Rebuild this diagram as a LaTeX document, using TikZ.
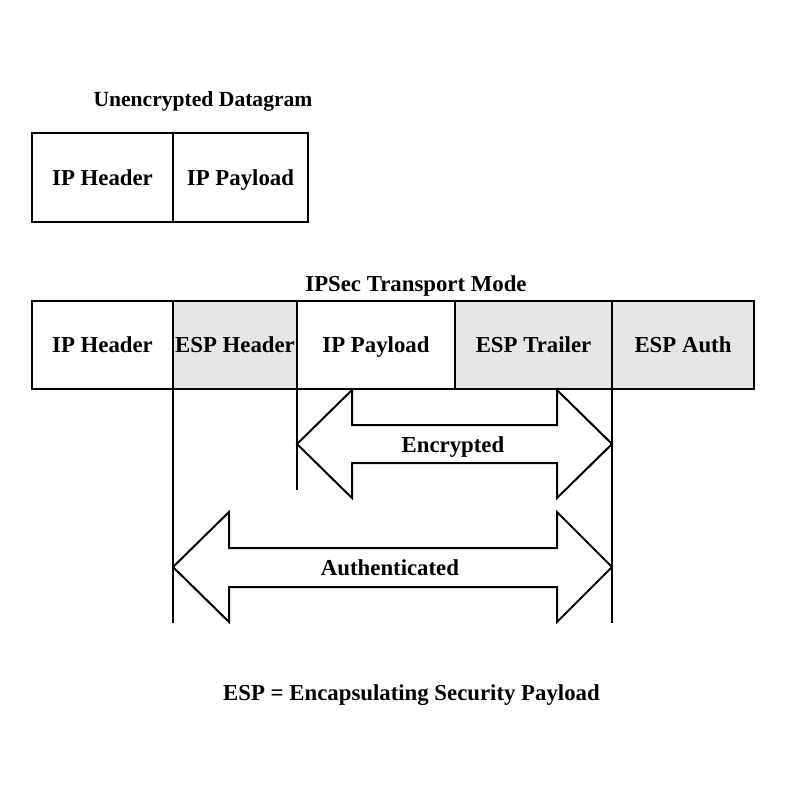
\documentclass[tikz,border=0pt]{standalone}
\usepackage{fontspec}
\setmainfont{Liberation Serif}
\definecolor{espgray}{HTML}{E6E6E6}
\begin{document}
\begin{tikzpicture}[x=0.5pt,y=-0.5pt,
  txt/.style={font=\fontsize{11.4}{13}\selectfont\bfseries, text height=7.5pt, text depth=0pt},
  lbl/.style={txt, inner sep=0pt},
  cell/.style={txt, draw, line width=1.1pt, rectangle, inner sep=0pt, outer sep=0pt},
  espcell/.style={cell, fill=espgray},
  guide/.style={line width=1pt},
  bigarrow/.style={draw, line width=1pt, fill=white, line join=miter}]
\useasboundingbox (0,0) rectangle (800,800);
% unencrypted datagram
\node[lbl, font=\fontsize{10.8}{13}\selectfont\bfseries] (t1) at (203,99) {Unencrypted Datagram};
\node[cell, minimum width=70.5pt, minimum height=44.5pt] (uh) at (102.5,177.5) {IP Header};
\node[cell, minimum width=67.5pt, minimum height=44.5pt] (up) at (240.5,177.5) {IP Payload};
% transport mode
\node[lbl] (t2) at (416,284) {IPSec Transport Mode};
\node[cell, minimum width=70.5pt, minimum height=44pt] (ih) at (102.5,345) {IP Header};
\node[espcell, minimum width=62pt, minimum height=44pt] (eh) at (235,345) {ESP Header};
\node[cell, minimum width=79pt, minimum height=44pt] (pl) at (376,345) {IP Payload};
\node[espcell, minimum width=78.5pt, minimum height=44pt] (et) at (533.5,345) {ESP Trailer};
\node[espcell, minimum width=71pt, minimum height=44pt] (ea) at (683,345) {ESP Auth};
% guide lines
\coordinate (g1) at (173,623);
\coordinate (g2) at (297,490);
\coordinate (g3) at (612,623);
\draw[guide] (eh.south west) -- (g1);
\draw[guide] (pl.south west) -- (g2);
\draw[guide] (et.south east) -- (g3);
% encrypted arrow
\draw[bigarrow] (297,444) -- (352,390) -- (352,425) -- (557,425) -- (557,390) -- (612,444)
  -- (557,498) -- (557,463) -- (352,463) -- (352,498) -- cycle;
\node[lbl] (enc) at (453,445) {Encrypted};
% authenticated arrow
\draw[bigarrow] (173,567) -- (229,512) -- (229,548) -- (557,548) -- (557,512) -- (612,567)
  -- (557,622) -- (557,587) -- (229,587) -- (229,622) -- cycle;
\node[lbl] (auth) at (390,568) {Authenticated};
% footnote
\node[lbl] (foot) at (411.5,693) {ESP = Encapsulating Security Payload};
\end{tikzpicture}
\end{document}
